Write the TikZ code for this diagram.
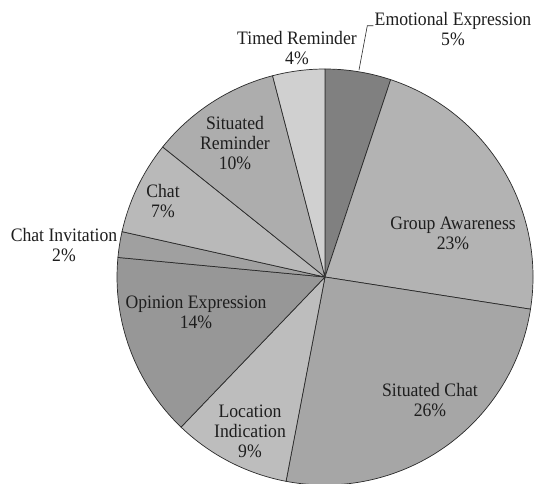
\documentclass[tikz,border=0pt]{standalone}
\usepackage{fontspec}
\setmainfont[FakeStretch=0.93]{Liberation Serif}
\definecolor{cEmo}{HTML}{808080}
\definecolor{cGrp}{HTML}{B3B3B3}
\definecolor{cSch}{HTML}{A6A6A6}
\definecolor{cLoc}{HTML}{BDBDBD}
\definecolor{cOpi}{HTML}{979797}
\definecolor{cInv}{HTML}{A0A0A0}
\definecolor{cCht}{HTML}{B9B9B9}
\definecolor{cSre}{HTML}{ADADAD}
\definecolor{cTim}{HTML}{D0D0D0}
\definecolor{cTxt}{HTML}{1E1E1E}
\definecolor{cLine}{HTML}{2A2A2A}
\tikzset{
  slice/.style={draw=cLine, line width=0.7pt, line join=round},
  lbl/.style={font=\fontsize{19}{20}\selectfont, text=cTxt, align=center, inner sep=0pt, anchor=center},
  leader/.style={draw=cLine, line width=0.6pt}
}
\newcommand{\pieslice}[3]{%
  \filldraw[slice, fill=#3] (ctr) -- ++(#1:208) arc[start angle=#1, end angle=#2, radius=208] -- cycle;}
\begin{document}
\begin{tikzpicture}[x=1pt,y=-1pt]
\useasboundingbox (0,0) rectangle (534,483);
\fill[white] (0,0) rectangle (534,483);
\coordinate (ctr) at (325,277);
\pieslice{-90}{-71.6}{cEmo}
\pieslice{-71.6}{8.9}{cGrp}
\pieslice{8.9}{100.8}{cSch}
\pieslice{100.8}{133.8}{cLoc}
\pieslice{133.8}{185.4}{cOpi}
\pieslice{185.4}{192.6}{cInv}
\pieslice{192.6}{218.7}{cCht}
\pieslice{218.7}{255.4}{cSre}
\pieslice{255.4}{270}{cTim}

\node[lbl] (emo) at (453,29) {Emotional Expression\\5\%};
\node[lbl] (tim) at (297,48.5) {Timed Reminder\\4\%};
\node[lbl] (sre) at (235,143.5) {Situated\\Reminder\\10\%};
\node[lbl] (cht) at (163,201.5) {Chat\\7\%};
\node[lbl] (inv) at (64,245) {Chat Invitation\\2\%};
\node[lbl] (opi) at (196,312.5) {Opinion Expression\\14\%};
\node[lbl] (loc) at (250,431.5) {Location\\Indication\\9\%};
\node[lbl] (sch) at (430,400) {Situated Chat\\26\%};
\node[lbl] (grp) at (453,233.5) {Group Awareness\\23\%};

\coordinate (ldA) at (359,70);
\coordinate (ldB) at (367.3,25.7);
\coordinate (ldC) at (373.3,25.7);
\draw[leader] (ldA) -- (ldB) -- (ldC);
\end{tikzpicture}
\end{document}
